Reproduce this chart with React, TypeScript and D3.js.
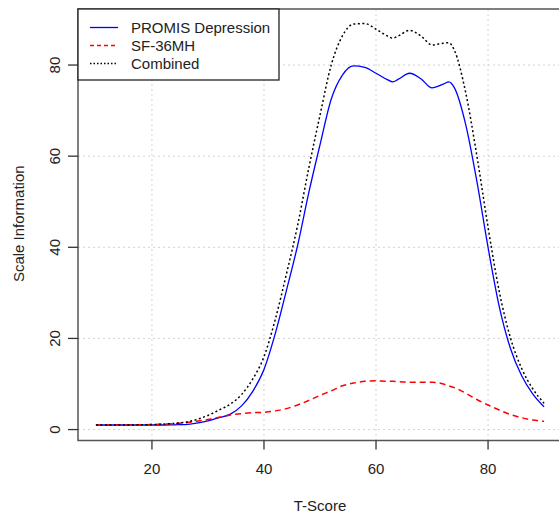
import { useEffect, useRef } from 'react';
import * as d3 from 'd3';

// T-score grid the information curves were evaluated on
const tScores = [10, 12, 14, 16, 18, 20, 22, 24, 26, 28, 30, 32, 34, 36, 38, 40, 42, 44, 46, 48, 50,
  52, 54, 56, 58, 60, 62, 63, 64, 66, 68, 70, 72, 73, 74, 76, 78, 80, 82, 84, 86, 88, 90];

const promisInfo = [1.0, 1.0, 1.0, 1.0, 1.0, 1.0, 1.0, 1.05, 1.1, 1.4, 1.9, 2.6, 3.4, 5.2, 8.4, 13.2, 21.0, 30.5, 40.4, 52.0, 62.5,
  72.5, 77.8, 79.8, 79.5, 78.2, 76.8, 76.3, 76.9, 78.2, 77.0, 75.0, 75.8, 76.3, 75.0, 67.0, 54.5, 40.0, 27.0, 17.8, 11.8, 7.8, 5.0];

const sf36Info = [1.0, 1.0, 1.0, 1.0, 1.05, 1.1, 1.2, 1.3, 1.5, 1.8, 2.2, 2.7, 3.2, 3.5, 3.7, 3.8, 4.1, 4.6, 5.4, 6.4, 7.5,
  8.5, 9.6, 10.2, 10.6, 10.7, 10.6, 10.6, 10.5, 10.4, 10.4, 10.4, 10.0, 9.6, 9.2, 8.0, 6.6, 5.4, 4.3, 3.3, 2.6, 2.1, 1.8];

const combinedInfo = [1.0, 1.0, 1.0, 1.0, 1.05, 1.1, 1.2, 1.35, 1.6, 2.2, 3.1, 4.3, 5.6, 7.7, 11.1, 16.0, 24.1, 34.1, 44.8, 57.4, 69.0,
  80.0, 86.4, 89.0, 89.1, 87.9, 86.4, 85.9, 86.4, 87.6, 86.4, 84.4, 84.8, 84.9, 83.2, 74.0, 60.1, 44.4, 30.3, 20.1, 13.4, 8.9, 5.8];

const xTicks = [20, 40, 60, 80];
const yTicks = [0, 20, 40, 60, 80];

const legendNames = ['PROMIS Depression', 'SF-36MH', 'Combined'];
const legendColors = ['#0000ff', '#ff0000', '#000000'];
const legendDash = ['none', '6,4', '2,2.5'];
const legendKeyDash = ['none', '4,3', '1.5,2'];

const App = () => {
  const ref = useRef(null);

  useEffect(() => {
    const svg = d3.select(ref.current);
    svg.selectAll('*').remove();

    const margin = { left: 78, top: 9, right: 562, bottom: 440.5 };

    const x = d3.scaleLinear().domain([6.8, 93.2]).range([margin.left, margin.right]);
    const y = d3.scaleLinear().domain([-2.4, 92.3]).range([margin.bottom, margin.top]);

    const font = 'Liberation Sans, Arial, sans-serif';
    const fs = 15;

    // grid
    const grid = svg.append('g').attr('stroke', '#d3d3d3').attr('stroke-dasharray', '2,3').attr('stroke-width', 1);
    grid.selectAll('line.gx').data(xTicks).join('line')
      .attr('x1', d => x(d)).attr('x2', d => x(d))
      .attr('y1', margin.top).attr('y2', margin.bottom);
    grid.selectAll('line.gy').data(yTicks).join('line')
      .attr('y1', d => y(d)).attr('y2', d => y(d))
      .attr('x1', margin.left).attr('x2', margin.right);

    // curves
    const series = [promisInfo, sf36Info, combinedInfo];
    const line = d3.line<number>()
      .x((_, i) => x(tScores[i]))
      .y(d => y(d))
      .curve(d3.curveMonotoneX);

    series.forEach((s, k) => {
      svg.append('path')
        .datum(s)
        .attr('fill', 'none')
        .attr('stroke', legendColors[k])
        .attr('stroke-width', k === 0 ? 1.3 : 1.5)
        .attr('stroke-dasharray', legendDash[k])
        .attr('d', line);
    });

    // box
    svg.append('rect')
      .attr('x', margin.left).attr('y', margin.top)
      .attr('width', margin.right - margin.left).attr('height', margin.bottom - margin.top)
      .attr('fill', 'none').attr('stroke', '#555').attr('stroke-width', 1.5);

    // x axis
    const xa = svg.append('g').attr('transform', `translate(0,${margin.bottom})`);
    xa.selectAll('line').data(xTicks).join('line')
      .attr('x1', d => x(d)).attr('x2', d => x(d))
      .attr('y1', 0).attr('y2', 9)
      .attr('stroke', '#333').attr('stroke-width', 1.3);
    xa.selectAll('text').data(xTicks).join('text')
      .attr('x', d => x(d)).attr('y', 33.5)
      .attr('text-anchor', 'middle')
      .attr('font-family', font).attr('font-size', fs).attr('fill', '#222')
      .text(d => d);

    // y axis
    const ya = svg.append('g').attr('transform', `translate(${margin.left},0)`);
    ya.selectAll('line').data(yTicks).join('line')
      .attr('x1', -10).attr('x2', 0)
      .attr('y1', d => y(d)).attr('y2', d => y(d))
      .attr('stroke', '#333').attr('stroke-width', 1.3);
    ya.selectAll('text').data(yTicks).join('text')
      .attr('transform', d => `translate(-18,${y(d)}) rotate(-90)`)
      .attr('text-anchor', 'middle')
      .attr('font-family', font).attr('font-size', fs).attr('fill', '#222')
      .text(d => d);

    // axis titles
    svg.append('text')
      .attr('x', (margin.left + margin.right) / 2).attr('y', 511)
      .attr('text-anchor', 'middle')
      .attr('font-family', font).attr('font-size', fs).attr('fill', '#222')
      .text('T-Score');
    svg.append('text')
      .attr('transform', `translate(24,${(margin.top + margin.bottom) / 2 - 1}) rotate(-90)`)
      .attr('text-anchor', 'middle')
      .attr('font-family', font).attr('font-size', fs).attr('fill', '#222')
      .text('Scale Information');

    // legend
    const lg = svg.append('g');
    lg.append('rect')
      .attr('x', margin.left).attr('y', margin.top)
      .attr('width', 201).attr('height', 71)
      .attr('fill', '#fff').attr('stroke', '#222').attr('stroke-width', 1.3);
    legendNames.forEach((name, i) => {
      const cy = 27.5 + i * 18;
      lg.append('line')
        .attr('x1', 90).attr('x2', 118)
        .attr('y1', cy).attr('y2', cy)
        .attr('stroke', legendColors[i])
        .attr('stroke-width', 1.3)
        .attr('stroke-dasharray', legendKeyDash[i]);
      lg.append('text')
        .attr('x', 131).attr('y', cy + 5.5)
        .attr('font-family', font).attr('font-size', fs).attr('fill', '#222')
        .text(name);
    });
  }, []);

  return (
    <svg ref={ref} width={559} height={514} style={{ position: 'absolute', left: 0, top: 0, background: '#fff' }} />
  );
};

export default App;
